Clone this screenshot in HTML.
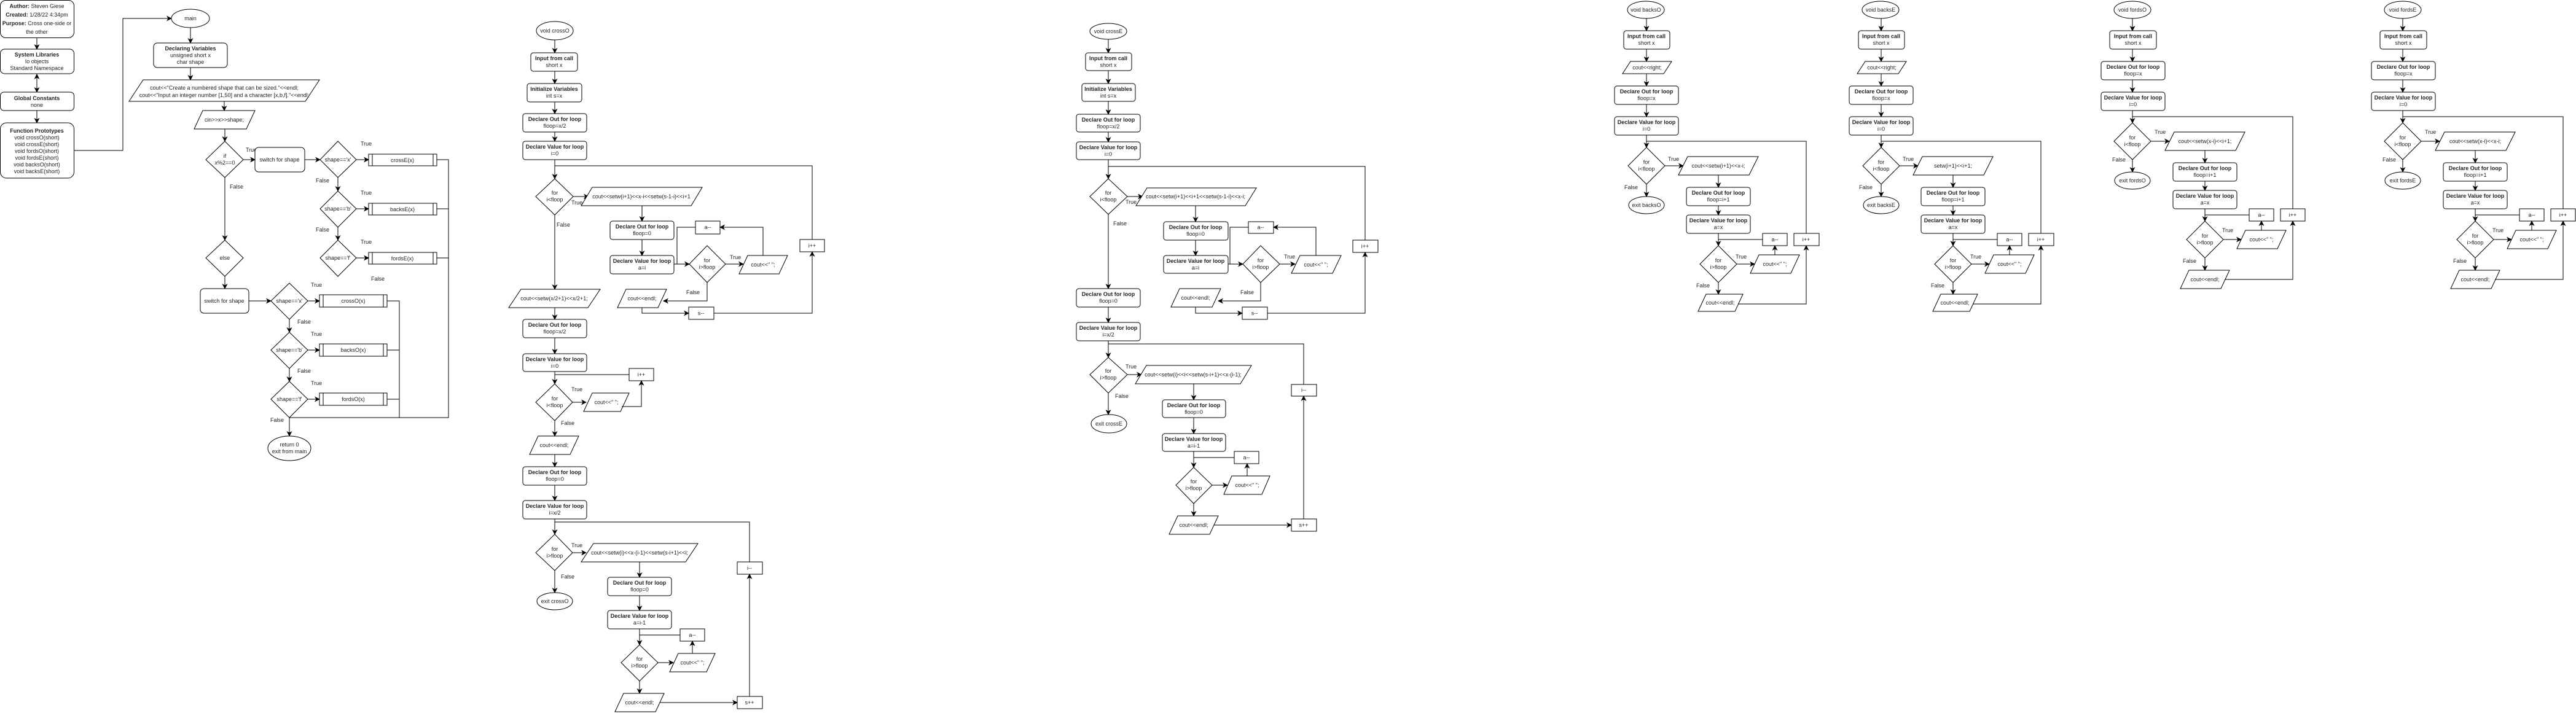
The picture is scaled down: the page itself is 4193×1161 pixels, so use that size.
<!DOCTYPE html>
<html><head><meta charset="utf-8">
<style>
html,body{margin:0;padding:0;background:#fff;}
svg{display:block;}
text{font-family:"Liberation Sans",sans-serif;font-size:9px;fill:#222;text-anchor:middle;}
.l{text-anchor:start;}
.bd{font-weight:bold;}
.s{fill:#fff;stroke:#000;stroke-width:1;}
.c{fill:none;stroke:#000;stroke-width:1;}
</style></head><body>
<svg width="4193" height="1161" viewBox="0 0 4193 1161" xmlns="http://www.w3.org/2000/svg">
<defs>
<marker id="a" markerUnits="userSpaceOnUse" markerWidth="9" markerHeight="9" refX="8" refY="4.5" orient="auto">
<path d="M0,0 L9,4.5 L0,9 L2.5,4.5 z" fill="#000"/></marker>
<marker id="as" markerUnits="userSpaceOnUse" markerWidth="9" markerHeight="9" refX="1" refY="4.5" orient="auto">
<path d="M9,0 L0,4.5 L9,9 L6.5,4.5 z" fill="#000"/></marker>
</defs>

<!-- ============ MAIN ============ -->
<rect class="s" x="0.5" y="0.5" width="120" height="61" rx="9"/>
<text x="60" y="13"><tspan class="bd">Author:</tspan> Steven Giese</text>
<text x="60" y="27"><tspan class="bd">Created:</tspan> 1/28/22 4:34pm</text>
<text x="60" y="41"><tspan class="bd">Purpose:</tspan> Cross one-side or</text>
<text x="60" y="55">the other</text>
<line class="c" x1="60" y1="61" x2="60" y2="80" marker-end="url(#a)"/>
<rect class="s" x="0.5" y="80" width="120" height="40" rx="7"/>
<text x="60" y="92" class="bd">System Libraries</text>
<text x="60" y="103">Io objects</text>
<text x="60" y="114">Standard Namespace</text>
<line class="c" x1="60" y1="121" x2="60" y2="150" marker-start="url(#as)" marker-end="url(#a)"/>
<rect class="s" x="0.5" y="150" width="120" height="30" rx="6"/>
<text x="60" y="163" class="bd">Global Constants</text>
<text x="60" y="174">none</text>
<line class="c" x1="60" y1="180" x2="60" y2="200" marker-end="url(#a)"/>
<rect class="s" x="0.5" y="200" width="120" height="90" rx="10"/>
<text x="60" y="216" class="bd">Function Prototypes</text>
<text x="60" y="227">void crossO(short)</text>
<text x="60" y="238">void crossE(short)</text>
<text x="60" y="249">void fordsO(short)</text>
<text x="60" y="260">void fordsE(short)</text>
<text x="60" y="271">void backsO(short)</text>
<text x="60" y="282">void backsE(short)</text>
<polyline class="c" points="120,245 200,245 200,30 279,30" marker-end="url(#a)"/>
<ellipse class="s" cx="310" cy="30" rx="31" ry="15"/>
<text x="310" y="33">main</text>
<line class="c" x1="310" y1="45" x2="310" y2="70" marker-end="url(#a)"/>
<rect class="s" x="250" y="70" width="120" height="40" rx="6"/>
<text x="310" y="82" class="bd">Declaring Variables</text>
<text x="310" y="93">unsigned short x</text>
<text x="310" y="104">char shape</text>
<line class="c" x1="310" y1="110" x2="310" y2="130" marker-end="url(#a)"/>
<polygon class="s" points="233,130 520,130 497,165 210,165"/>
<text x="365" y="146">cout&lt;&lt;"Create a numbered  shape that can be sized."&lt;&lt;endl;</text>
<text x="365" y="158">cout&lt;&lt;"Input an integer number [1,50] and a character [x,b,f]."&lt;&lt;endl;</text>
<line class="c" x1="365" y1="165" x2="365" y2="180" marker-end="url(#a)"/>
<polygon class="s" points="330,180 415,180 401,210 316,210"/>
<text x="365" y="198">cin&gt;&gt;x&gt;&gt;shape;</text>
<line class="c" x1="366" y1="210" x2="366" y2="230" marker-end="url(#a)"/>
<polygon class="s" points="366,230 396,260 366,289 335,260"/>
<text x="366" y="257">if</text><text x="366" y="268">x%2==0</text>
<line class="c" x1="396" y1="260" x2="415" y2="260" marker-end="url(#a)"/>
<text x="400" y="247" class="l">True</text>
<rect class="s" x="415" y="240" width="81" height="40" rx="6"/>
<text x="455" y="263">switch for shape</text>
<line class="c" x1="496" y1="260" x2="521" y2="260" marker-end="url(#a)"/>
<polygon class="s" points="550,230 580,260 550,289 521,260"/>
<text x="550" y="263">shape=='x'</text>
<line class="c" x1="580" y1="260" x2="600" y2="260" marker-end="url(#a)"/>
<rect class="s" x="600" y="251" width="111" height="19"/><line class="c" x1="606" y1="251" x2="606" y2="270"/><line class="c" x1="705" y1="251" x2="705" y2="270"/>
<text x="655" y="264">crossE(x)</text>
<text x="587" y="237" class="l">True</text>
<text x="514" y="297" class="l">False</text>
<line class="c" x1="550" y1="289" x2="550" y2="311" marker-end="url(#a)"/>
<polygon class="s" points="550,311 580,340 550,370 521,340"/>
<text x="550" y="343">shape=='b'</text>
<line class="c" x1="580" y1="340" x2="600" y2="340" marker-end="url(#a)"/>
<rect class="s" x="600" y="331" width="111" height="19"/><line class="c" x1="606" y1="331" x2="606" y2="350"/><line class="c" x1="705" y1="331" x2="705" y2="350"/>
<text x="655" y="344">backsE(x)</text>
<text x="587" y="317" class="l">True</text>
<text x="514" y="377" class="l">False</text>
<line class="c" x1="550" y1="370" x2="550" y2="391" marker-end="url(#a)"/>
<polygon class="s" points="550,391 580,420 550,450 521,420"/>
<text x="550" y="423">shape=='f'</text>
<line class="c" x1="580" y1="420" x2="600" y2="420" marker-end="url(#a)"/>
<rect class="s" x="600" y="411" width="111" height="19"/><line class="c" x1="606" y1="411" x2="606" y2="430"/><line class="c" x1="705" y1="411" x2="705" y2="430"/>
<text x="655" y="424">fordsE(x)</text>
<text x="587" y="397" class="l">True</text>
<text x="604" y="457" class="l">False</text>
<polyline class="c" points="711,260 730,260 730,680 471,680"/>
<line class="c" x1="711" y1="340" x2="730" y2="340"/>
<line class="c" x1="711" y1="420" x2="730" y2="420"/>
<line class="c" x1="366" y1="289" x2="366" y2="391" marker-end="url(#a)"/>
<text x="374" y="307" class="l">False</text>
<polygon class="s" points="366,391 396,420 366,450 335,420"/>
<text x="366" y="423">else</text>
<line class="c" x1="366" y1="450" x2="366" y2="470" marker-end="url(#a)"/>
<rect class="s" x="326" y="470" width="79" height="40" rx="6"/>
<text x="365" y="493">switch for shape</text>
<line class="c" x1="405" y1="490" x2="441" y2="490" marker-end="url(#a)"/>
<polygon class="s" points="471,461 501,490 471,520 441,490"/>
<text x="471" y="493">shape=='x'</text>
<line class="c" x1="501" y1="490" x2="520" y2="490" marker-end="url(#a)"/>
<rect class="s" x="520" y="480" width="110" height="20"/><line class="c" x1="526" y1="480" x2="526" y2="500"/><line class="c" x1="624" y1="480" x2="624" y2="500"/>
<text x="575" y="493">crossO(x)</text>
<text x="506" y="467" class="l">True</text>
<text x="484" y="527" class="l">False</text>
<line class="c" x1="471" y1="520" x2="471" y2="541" marker-end="url(#a)"/>
<polygon class="s" points="471,541 501,570 471,600 441,570"/>
<text x="471" y="573">shape=='b'</text>
<line class="c" x1="501" y1="570" x2="520" y2="570" marker-end="url(#a)"/>
<rect class="s" x="520" y="560" width="110" height="20"/><line class="c" x1="526" y1="560" x2="526" y2="580"/><line class="c" x1="624" y1="560" x2="624" y2="580"/>
<text x="575" y="573">backsO(x)</text>
<text x="506" y="547" class="l">True</text>
<text x="484" y="607" class="l">False</text>
<line class="c" x1="471" y1="600" x2="471" y2="621" marker-end="url(#a)"/>
<polygon class="s" points="471,621 501,650 471,680 441,650"/>
<text x="471" y="653">shape=='f'</text>
<line class="c" x1="501" y1="650" x2="520" y2="650" marker-end="url(#a)"/>
<rect class="s" x="520" y="640" width="110" height="20"/><line class="c" x1="526" y1="640" x2="526" y2="660"/><line class="c" x1="624" y1="640" x2="624" y2="660"/>
<text x="575" y="653">fordsO(x)</text>
<text x="506" y="627" class="l">True</text>
<text x="440" y="687" class="l">False</text>
<polyline class="c" points="630,490 650,490 650,680"/>
<line class="c" x1="630" y1="570" x2="650" y2="570"/>
<line class="c" x1="630" y1="650" x2="650" y2="650"/>
<line class="c" x1="471" y1="680" x2="471" y2="710" marker-end="url(#a)"/>
<ellipse class="s" cx="471" cy="730" rx="35" ry="20"/>
<text x="471" y="727">return 0</text><text x="471" y="738">exit from main</text>

<!-- ============ crossO ============ -->
<ellipse class="s" cx="903" cy="50" rx="30" ry="15"/><text x="903" y="53">void crossO</text>
<line class="c" x1="903" y1="65" x2="903" y2="86" marker-end="url(#a)"/>
<rect class="s" x="864" y="86" width="76" height="30" rx="4"/><text x="902" y="98" class="bd">Input from call</text><text x="902" y="109">short x</text>
<line class="c" x1="903" y1="116" x2="903" y2="136" marker-end="url(#a)"/>
<rect class="s" x="858" y="136" width="89" height="30" rx="4"/><text x="902" y="148" class="bd">Initialize Variables</text><text x="902" y="159">int s=x</text>
<line class="c" x1="903" y1="166" x2="903" y2="185" marker-end="url(#a)"/>
<rect class="s" x="851" y="185" width="104" height="30" rx="4"/><text x="903" y="197" class="bd">Declare Out for loop</text><text x="903" y="208">floop=x/2</text>
<line class="c" x1="903" y1="215" x2="903" y2="230" marker-end="url(#a)"/>
<rect class="s" x="851" y="230" width="104" height="30" rx="4"/><text x="903" y="242" class="bd">Declare Value for loop</text><text x="903" y="253">i=0</text>
<line class="c" x1="903" y1="260" x2="903" y2="291" marker-end="url(#a)"/>
<polyline class="c" points="1322,390 1322,270 903,270"/>
<polygon class="s" points="903,291 933,320 903,350 872,320"/><text x="903" y="317">for</text><text x="903" y="328">i&lt;floop</text>
<line class="c" x1="933" y1="320" x2="958" y2="320" marker-end="url(#a)"/><text x="930" y="333" class="l">True</text>
<polygon class="s" points="964,305 1143,305 1125,335 946,335"/><text x="1044" y="323">cout&lt;&lt;setw(i+1)&lt;&lt;x-i&lt;&lt;setw(s-1-i)&lt;&lt;i+1</text>
<line class="c" x1="1045" y1="335" x2="1045" y2="360" marker-end="url(#a)"/>
<rect class="s" x="993" y="360" width="104" height="30" rx="4"/><text x="1045" y="372" class="bd">Declare Out for loop</text><text x="1045" y="383">floop=0</text>
<line class="c" x1="1045" y1="390" x2="1045" y2="416" marker-end="url(#a)"/>
<rect class="s" x="993" y="416" width="104" height="30" rx="4"/><text x="1045" y="428" class="bd">Declare Value for loop</text><text x="1045" y="439">a=i</text>
<rect class="s" x="1132" y="360" width="40" height="21"/><text x="1152" y="373">a--</text>
<line class="c" x1="1097" y1="430" x2="1122" y2="430" marker-end="url(#a)"/>
<polyline class="c" points="1132,370 1102,370 1102,430"/>
<polygon class="s" points="1151,400 1181,430 1151,460 1122,430"/><text x="1151" y="427">for</text><text x="1151" y="438">i&gt;floop</text>
<line class="c" x1="1181" y1="430" x2="1210" y2="430" marker-end="url(#a)"/><text x="1188" y="422" class="l">True</text>
<polygon class="s" points="1217,416 1282,416 1268,446 1203,446"/><text x="1242" y="434">cout&lt;&lt;" ";</text>
<polyline class="c" points="1242,416 1242,370 1172,370" marker-end="url(#a)"/>
<polyline class="c" points="1151,460 1151,490 1080,490" marker-end="url(#a)"/><text x="1117" y="479" class="l">False</text>
<polygon class="s" points="1019,471 1085,471 1071,501 1005,501"/><text x="1045" y="489">cout&lt;&lt;endl;</text>
<polyline class="c" points="1045,501 1045,510 1121,510" marker-end="url(#a)"/>
<rect class="s" x="1121" y="500" width="41" height="20"/><text x="1141" y="513">s--</text>
<polyline class="c" points="1162,510 1322,510 1322,410" marker-end="url(#a)"/>
<rect class="s" x="1302" y="390" width="40" height="20"/><text x="1322" y="403">i++</text>
<line class="c" x1="903" y1="350" x2="903" y2="471" marker-end="url(#a)"/><text x="906" y="369" class="l">False</text>
<polygon class="s" points="848,471 977,471 957,501 828,501"/><text x="902" y="489">cout&lt;&lt;setw(x/2+1)&lt;&lt;x/2+1;</text>
<line class="c" x1="903" y1="501" x2="903" y2="520" marker-end="url(#a)"/>
<rect class="s" x="851" y="520" width="104" height="30" rx="4"/><text x="903" y="532" class="bd">Declare Out for loop</text><text x="903" y="543">floop=x/2</text>
<line class="c" x1="903" y1="550" x2="903" y2="576" marker-end="url(#a)"/>
<rect class="s" x="851" y="576" width="104" height="29" rx="4"/><text x="903" y="588" class="bd">Declare Value for loop</text><text x="903" y="599">i=0</text>
<line class="c" x1="903" y1="605" x2="903" y2="625" marker-end="url(#a)"/>
<polyline class="c" points="1024,610 903,610"/>
<rect class="s" x="1024" y="600" width="40" height="20"/><text x="1044" y="613">i++</text>
<polygon class="s" points="903,625 932,655 903,685 872,655"/><text x="903" y="652">for</text><text x="903" y="663">i&lt;floop</text>
<line class="c" x1="932" y1="655" x2="954" y2="655" marker-end="url(#a)"/><text x="930" y="637" class="l">True</text>
<polygon class="s" points="964,640 1024,640 1010,670 950,670"/><text x="987" y="658">cout&lt;&lt;" ";</text>
<polyline class="c" points="1012,662 1044,662 1044,620" marker-end="url(#a)"/>
<line class="c" x1="903" y1="685" x2="903" y2="710" marker-end="url(#a)"/><text x="913" y="692" class="l">False</text>
<polygon class="s" points="876,710 942,710 928,740 862,740"/><text x="902" y="728">cout&lt;&lt;endl;</text>
<line class="c" x1="903" y1="740" x2="903" y2="760" marker-end="url(#a)"/>
<rect class="s" x="851" y="760" width="104" height="30" rx="4"/><text x="903" y="772" class="bd">Declare Out for loop</text><text x="903" y="783">floop=0</text>
<line class="c" x1="903" y1="790" x2="903" y2="815" marker-end="url(#a)"/>
<rect class="s" x="851" y="815" width="104" height="30" rx="4"/><text x="903" y="827" class="bd">Declare Value for loop</text><text x="903" y="838">i=x/2</text>
<line class="c" x1="903" y1="845" x2="903" y2="870" marker-end="url(#a)"/>
<polyline class="c" points="1220,915 1220,850 903,850"/>
<polygon class="s" points="903,870 932,900 903,929 872,900"/><text x="903" y="897">for</text><text x="903" y="908">i&gt;floop</text>
<line class="c" x1="932" y1="900" x2="954" y2="900" marker-end="url(#a)"/><text x="930" y="891" class="l">True</text>
<polygon class="s" points="966,885 1136,885 1116,915 946,915"/><text x="1041" y="903">cout&lt;&lt;setw(i)&lt;&lt;x-(i-1)&lt;&lt;setw(s-i+1)&lt;&lt;i;</text>
<line class="c" x1="903" y1="929" x2="903" y2="965" marker-end="url(#a)"/><text x="913" y="942" class="l">False</text>
<ellipse class="s" cx="903" cy="979" rx="29" ry="14"/><text x="903" y="982">exit crossO</text>
<line class="c" x1="1041" y1="915" x2="1041" y2="940" marker-end="url(#a)"/>
<rect class="s" x="989" y="940" width="104" height="30" rx="4"/><text x="1041" y="952" class="bd">Declare Out for loop</text><text x="1041" y="963">floop=0</text>
<line class="c" x1="1041" y1="970" x2="1041" y2="994" marker-end="url(#a)"/>
<rect class="s" x="989" y="994" width="104" height="30" rx="4"/><text x="1041" y="1006" class="bd">Declare Value for loop</text><text x="1041" y="1017">a=i-1</text>
<line class="c" x1="1041" y1="1024" x2="1041" y2="1050" marker-end="url(#a)"/>
<polyline class="c" points="1107,1034 1041,1034"/>
<rect class="s" x="1107" y="1024" width="40" height="20"/><text x="1127" y="1037">a--</text>
<polygon class="s" points="1041,1050 1071,1079 1041,1109 1011,1079"/><text x="1041" y="1076">for</text><text x="1041" y="1087">i&gt;floop</text>
<line class="c" x1="1071" y1="1079" x2="1096" y2="1079" marker-end="url(#a)"/>
<polygon class="s" points="1104,1064 1164,1064 1150,1094 1090,1094"/><text x="1127" y="1082">cout&lt;&lt;" ";</text>
<line class="c" x1="1127" y1="1064" x2="1127" y2="1044" marker-end="url(#a)"/>
<line class="c" x1="1041" y1="1109" x2="1041" y2="1129" marker-end="url(#a)"/>
<polygon class="s" points="1015,1129 1081,1129 1067,1159 1001,1159"/><text x="1041" y="1147">cout&lt;&lt;endl;</text>
<line class="c" x1="1074" y1="1144" x2="1200" y2="1144" marker-end="url(#a)"/>
<rect class="s" x="1200" y="1134" width="41" height="20"/><text x="1220" y="1147">s++</text>
<line class="c" x1="1220" y1="1134" x2="1220" y2="935" marker-end="url(#a)"/>
<rect class="s" x="1200" y="915" width="41" height="20"/><text x="1220" y="928">i--</text>

<!-- ============ crossE ============ -->
<ellipse class="s" cx="1804" cy="51" rx="30" ry="13"/><text x="1804" y="54">void crossE</text>
<line class="c" x1="1804" y1="64" x2="1804" y2="86" marker-end="url(#a)"/>
<rect class="s" x="1767" y="86" width="75" height="29" rx="4"/><text x="1804" y="98" class="bd">Input from call</text><text x="1804" y="109">short x</text>
<line class="c" x1="1804" y1="115" x2="1804" y2="136" marker-end="url(#a)"/>
<rect class="s" x="1761" y="136" width="87" height="29" rx="4"/><text x="1804" y="148" class="bd">Initialize Variables</text><text x="1804" y="159">int s=x</text>
<line class="c" x1="1804" y1="165" x2="1804" y2="186" marker-end="url(#a)"/>
<rect class="s" x="1752" y="186" width="104" height="29" rx="4"/><text x="1804" y="198" class="bd">Declare Out for loop</text><text x="1804" y="209">floop=x/2</text>
<line class="c" x1="1804" y1="215" x2="1804" y2="231" marker-end="url(#a)"/>
<rect class="s" x="1752" y="231" width="104" height="29" rx="4"/><text x="1804" y="243" class="bd">Declare Value for loop</text><text x="1804" y="254">i=0</text>
<line class="c" x1="1804" y1="260" x2="1804" y2="291" marker-end="url(#a)"/>
<polyline class="c" points="2222,391 2222,271 1804,271"/>
<polygon class="s" points="1804,291 1835,320 1804,349 1774,320"/><text x="1804" y="317">for</text><text x="1804" y="328">i&lt;floop</text>
<line class="c" x1="1835" y1="320" x2="1860" y2="320" marker-end="url(#a)"/><text x="1832" y="332" class="l">True</text>
<polygon class="s" points="1867,306 2045,306 2027,335 1849,335"/><text x="1946" y="323">cout&lt;&lt;setw(i+1)&lt;&lt;i+1&lt;&lt;setw(s-1-i)&lt;&lt;x-i;</text>
<line class="c" x1="1946" y1="335" x2="1946" y2="361" marker-end="url(#a)"/>
<rect class="s" x="1894" y="361" width="105" height="30" rx="4"/><text x="1946" y="373" class="bd">Declare Out for loop</text><text x="1946" y="384">floop=0</text>
<line class="c" x1="1946" y1="391" x2="1946" y2="416" marker-end="url(#a)"/>
<rect class="s" x="1894" y="416" width="105" height="29" rx="4"/><text x="1946" y="428" class="bd">Declare Value for loop</text><text x="1946" y="439">a=i</text>
<rect class="s" x="2032" y="361" width="41" height="19"/><text x="2052" y="373">a--</text>
<line class="c" x1="1999" y1="430" x2="2023" y2="430" marker-end="url(#a)"/>
<polyline class="c" points="2032,370 2002,370 2002,430"/>
<polygon class="s" points="2052,400 2083,430 2052,460 2023,430"/><text x="2052" y="427">for</text><text x="2052" y="438">i&gt;floop</text>
<line class="c" x1="2083" y1="430" x2="2108" y2="430" marker-end="url(#a)"/><text x="2090" y="421" class="l">True</text>
<polygon class="s" points="2116,416 2183,416 2169,445 2102,445"/><text x="2142" y="434">cout&lt;&lt;" ";</text>
<polyline class="c" points="2142,416 2142,370 2073,370" marker-end="url(#a)"/>
<polyline class="c" points="2052,460 2052,490 1983,490" marker-end="url(#a)"/><text x="2019" y="479" class="l">False</text>
<polygon class="s" points="1920,470 1987,470 1973,500 1906,500"/><text x="1946" y="488">cout&lt;&lt;endl;</text>
<polyline class="c" points="1946,500 1946,510 2022,510" marker-end="url(#a)"/>
<rect class="s" x="2022" y="500" width="41" height="20"/><text x="2042" y="513">s--</text>
<polyline class="c" points="2063,510 2222,510 2222,411" marker-end="url(#a)"/>
<rect class="s" x="2202" y="391" width="41" height="20"/><text x="2222" y="404">i++</text>
<line class="c" x1="1804" y1="349" x2="1804" y2="470" marker-end="url(#a)"/><text x="1812" y="367" class="l">False</text>
<rect class="s" x="1752" y="470" width="104" height="30" rx="4"/><text x="1804" y="482" class="bd">Declare Out for loop</text><text x="1804" y="493">floop=0</text>
<line class="c" x1="1804" y1="500" x2="1804" y2="525" marker-end="url(#a)"/>
<rect class="s" x="1752" y="525" width="104" height="30" rx="4"/><text x="1804" y="537" class="bd">Declare Value for loop</text><text x="1804" y="548">i=x/2</text>
<line class="c" x1="1804" y1="555" x2="1804" y2="582" marker-end="url(#a)"/>
<polyline class="c" points="2122,626 2122,560 1804,560"/>
<polygon class="s" points="1804,582 1835,610 1804,640 1774,610"/><text x="1804" y="607">for</text><text x="1804" y="618">i&gt;floop</text>
<line class="c" x1="1835" y1="610" x2="1858" y2="610" marker-end="url(#a)"/><text x="1832" y="600" class="l">True</text>
<polygon class="s" points="1866,595 2037,595 2019,625 1848,625"/><text x="1942" y="613">cout&lt;&lt;setw(i)&lt;&lt;i&lt;&lt;setw(s-i+1)&lt;&lt;x-(i-1);</text>
<line class="c" x1="1804" y1="640" x2="1804" y2="675" marker-end="url(#a)"/><text x="1815" y="648" class="l">False</text>
<ellipse class="s" cx="1805" cy="690" rx="29" ry="15"/><text x="1805" y="693">exit crossE</text>
<line class="c" x1="1943" y1="625" x2="1943" y2="651" marker-end="url(#a)"/>
<rect class="s" x="1892" y="651" width="103" height="29" rx="4"/><text x="1943" y="663" class="bd">Declare Out for loop</text><text x="1943" y="674">floop=0</text>
<line class="c" x1="1943" y1="680" x2="1943" y2="706" marker-end="url(#a)"/>
<rect class="s" x="1892" y="706" width="103" height="29" rx="4"/><text x="1943" y="718" class="bd">Declare Value for loop</text><text x="1943" y="729">a=i-1</text>
<line class="c" x1="1943" y1="735" x2="1943" y2="761" marker-end="url(#a)"/>
<polyline class="c" points="2009,745 1943,745"/>
<rect class="s" x="2009" y="735" width="40" height="20"/><text x="2029" y="748">a--</text>
<polygon class="s" points="1943,761 1973,790 1943,820 1914,790"/><text x="1943" y="787">for</text><text x="1943" y="798">i&gt;floop</text>
<line class="c" x1="1973" y1="790" x2="1998" y2="790" marker-end="url(#a)"/>
<polygon class="s" points="2005,775 2067,775 2054,805 1992,805"/><text x="2030" y="793">cout&lt;&lt;" ";</text>
<line class="c" x1="2030" y1="775" x2="2030" y2="755" marker-end="url(#a)"/>
<line class="c" x1="1943" y1="820" x2="1943" y2="840" marker-end="url(#a)"/>
<polygon class="s" points="1917,840 1983,840 1969,870 1903,870"/><text x="1943" y="858">cout&lt;&lt;endl;</text>
<line class="c" x1="1976" y1="855" x2="2102" y2="855" marker-end="url(#a)"/>
<rect class="s" x="2102" y="845" width="41" height="20"/><text x="2122" y="858">s++</text>
<line class="c" x1="2122" y1="845" x2="2122" y2="645" marker-end="url(#a)"/>
<rect class="s" x="2102" y="626" width="41" height="19"/><text x="2122" y="638">i--</text>

<!-- ============ backsO / backsE ============ -->
<g id="bO">
<ellipse class="s" cx="2679" cy="16" rx="30" ry="14"/><text x="2679" y="19">void backsO</text>
<line class="c" x1="2680" y1="30" x2="2680" y2="50" marker-end="url(#a)"/>
<rect class="s" x="2643" y="50" width="75" height="30" rx="4"/><text x="2680" y="62" class="bd">Input from call</text><text x="2680" y="73">short x</text>
<line class="c" x1="2680" y1="80" x2="2680" y2="100" marker-end="url(#a)"/>
<polygon class="s" points="2654,100 2721,100 2708,120 2641,120"/><text x="2681" y="113">cout&lt;&lt;right;</text>
<line class="c" x1="2680" y1="120" x2="2680" y2="140" marker-end="url(#a)"/>
<rect class="s" x="2628" y="140" width="104" height="30" rx="4"/><text x="2680" y="152" class="bd">Declare Out for loop</text><text x="2680" y="163">floop=x</text>
<line class="c" x1="2680" y1="170" x2="2680" y2="190" marker-end="url(#a)"/>
<rect class="s" x="2628" y="190" width="104" height="30" rx="4"/><text x="2680" y="202" class="bd">Declare Value for loop</text><text x="2680" y="213">i=0</text>
<line class="c" x1="2680" y1="220" x2="2680" y2="240" marker-end="url(#a)"/>
<polyline class="c" points="2940,380 2940,230 2680,230"/>
<polygon class="s" points="2680,240 2710,270 2680,300 2650,270"/><text x="2680" y="267">for</text><text x="2680" y="278">i&lt;floop</text>
<line class="c" x1="2710" y1="270" x2="2740" y2="270" marker-end="url(#a)"/><text x="2715" y="262" class="l">True</text>
<text x="2644" y="308" class="l">False</text>
<line class="c" x1="2680" y1="300" x2="2680" y2="320" marker-end="url(#a)"/>
<line class="c" x1="2797" y1="285" x2="2797" y2="305" marker-end="url(#a)"/>
<rect class="s" x="2745" y="305" width="104" height="30" rx="4"/><text x="2797" y="317" class="bd">Declare Out for loop</text><text x="2797" y="328">floop=i+1</text>
<line class="c" x1="2797" y1="335" x2="2797" y2="350" marker-end="url(#a)"/>
<rect class="s" x="2745" y="350" width="104" height="30" rx="4"/><text x="2797" y="362" class="bd">Declare Value for loop</text><text x="2797" y="373">a=x</text>
<line class="c" x1="2797" y1="380" x2="2797" y2="400" marker-end="url(#a)"/>
<polyline class="c" points="2869,390 2797,390"/>
<rect class="s" x="2869" y="380" width="40" height="20"/><text x="2889" y="393">a--</text>
<polygon class="s" points="2797,400 2827,430 2797,460 2767,430"/><text x="2797" y="427">for</text><text x="2797" y="438">i&gt;floop</text>
<line class="c" x1="2827" y1="430" x2="2856" y2="430" marker-end="url(#a)"/><text x="2825" y="421" class="l">True</text>
<polygon class="s" points="2863,415 2929,415 2915,445 2849,445"/><text x="2889" y="433">cout&lt;&lt;" ";</text>
<line class="c" x1="2889" y1="415" x2="2889" y2="400" marker-end="url(#a)"/>
<text x="2761" y="468" class="l">False</text>
<line class="c" x1="2797" y1="460" x2="2797" y2="479" marker-end="url(#a)"/>
<polygon class="s" points="2777,479 2837,479 2824,507 2764,507"/><text x="2800" y="496">cout&lt;&lt;endl;</text>
<polyline class="c" points="2830,495 2940,495 2940,400" marker-end="url(#a)"/>
<rect class="s" x="2920" y="380" width="41" height="20"/><text x="2940" y="393">i++</text>
</g>
<polygon class="s" points="2747,255 2862,255 2847,285 2732,285"/><text x="2797" y="273">cout&lt;&lt;setw(i+1)&lt;&lt;x-i;</text>
<ellipse class="s" cx="2680" cy="334" rx="29" ry="14"/><text x="2680" y="337">exit backsO</text>

<g transform="translate(382,0)">
<ellipse class="s" cx="2679" cy="16" rx="30" ry="14"/><text x="2679" y="19">void backsE</text>
<line class="c" x1="2680" y1="30" x2="2680" y2="50" marker-end="url(#a)"/>
<rect class="s" x="2643" y="50" width="75" height="30" rx="4"/><text x="2680" y="62" class="bd">Input from call</text><text x="2680" y="73">short x</text>
<line class="c" x1="2680" y1="80" x2="2680" y2="100" marker-end="url(#a)"/>
<polygon class="s" points="2654,100 2721,100 2708,120 2641,120"/><text x="2681" y="113">cout&lt;&lt;right;</text>
<line class="c" x1="2680" y1="120" x2="2680" y2="140" marker-end="url(#a)"/>
<rect class="s" x="2628" y="140" width="104" height="30" rx="4"/><text x="2680" y="152" class="bd">Declare Out for loop</text><text x="2680" y="163">floop=x</text>
<line class="c" x1="2680" y1="170" x2="2680" y2="190" marker-end="url(#a)"/>
<rect class="s" x="2628" y="190" width="104" height="30" rx="4"/><text x="2680" y="202" class="bd">Declare Value for loop</text><text x="2680" y="213">i=0</text>
<line class="c" x1="2680" y1="220" x2="2680" y2="240" marker-end="url(#a)"/>
<polyline class="c" points="2940,380 2940,230 2680,230"/>
<polygon class="s" points="2680,240 2710,270 2680,300 2650,270"/><text x="2680" y="267">for</text><text x="2680" y="278">i&lt;floop</text>
<line class="c" x1="2710" y1="270" x2="2740" y2="270" marker-end="url(#a)"/><text x="2715" y="262" class="l">True</text>
<text x="2644" y="308" class="l">False</text>
<line class="c" x1="2680" y1="300" x2="2680" y2="320" marker-end="url(#a)"/>
<line class="c" x1="2797" y1="285" x2="2797" y2="305" marker-end="url(#a)"/>
<rect class="s" x="2745" y="305" width="104" height="30" rx="4"/><text x="2797" y="317" class="bd">Declare Out for loop</text><text x="2797" y="328">floop=i+1</text>
<line class="c" x1="2797" y1="335" x2="2797" y2="350" marker-end="url(#a)"/>
<rect class="s" x="2745" y="350" width="104" height="30" rx="4"/><text x="2797" y="362" class="bd">Declare Value for loop</text><text x="2797" y="373">a=x</text>
<line class="c" x1="2797" y1="380" x2="2797" y2="400" marker-end="url(#a)"/>
<polyline class="c" points="2869,390 2797,390"/>
<rect class="s" x="2869" y="380" width="40" height="20"/><text x="2889" y="393">a--</text>
<polygon class="s" points="2797,400 2827,430 2797,460 2767,430"/><text x="2797" y="427">for</text><text x="2797" y="438">i&gt;floop</text>
<line class="c" x1="2827" y1="430" x2="2856" y2="430" marker-end="url(#a)"/><text x="2825" y="421" class="l">True</text>
<polygon class="s" points="2863,415 2929,415 2915,445 2849,445"/><text x="2889" y="433">cout&lt;&lt;" ";</text>
<line class="c" x1="2889" y1="415" x2="2889" y2="400" marker-end="url(#a)"/>
<text x="2761" y="468" class="l">False</text>
<line class="c" x1="2797" y1="460" x2="2797" y2="479" marker-end="url(#a)"/>
<polygon class="s" points="2777,479 2837,479 2824,507 2764,507"/><text x="2800" y="496">cout&lt;&lt;endl;</text>
<polyline class="c" points="2830,495 2940,495 2940,400" marker-end="url(#a)"/>
<rect class="s" x="2920" y="380" width="41" height="20"/><text x="2940" y="393">i++</text>
<polygon class="s" points="2747,255 2862,255 2847,285 2732,285"/><text x="2797" y="273">setw(i+1)&lt;&lt;i+1;</text>
<ellipse class="s" cx="2680" cy="334" rx="29" ry="14"/><text x="2680" y="337">exit backsE</text>
</g>

<!-- ============ fordsO / fordsE ============ -->
<g>
<ellipse class="s" cx="3471" cy="16" rx="30" ry="14"/><text x="3471" y="19">void fordsO</text>
<line class="c" x1="3471" y1="30" x2="3471" y2="50" marker-end="url(#a)"/>
<rect class="s" x="3434" y="50" width="76" height="30" rx="4"/><text x="3472" y="62" class="bd">Input from call</text><text x="3472" y="73">short x</text>
<line class="c" x1="3471" y1="80" x2="3471" y2="100" marker-end="url(#a)"/>
<rect class="s" x="3420" y="100" width="104" height="30" rx="4"/><text x="3472" y="112" class="bd">Declare Out for loop</text><text x="3472" y="123">floop=x</text>
<line class="c" x1="3471" y1="130" x2="3471" y2="150" marker-end="url(#a)"/>
<rect class="s" x="3420" y="150" width="104" height="30" rx="4"/><text x="3472" y="162" class="bd">Declare Value for loop</text><text x="3472" y="173">i=0</text>
<line class="c" x1="3471" y1="180" x2="3471" y2="200" marker-end="url(#a)"/>
<polyline class="c" points="3732,340 3732,190 3471,190"/>
<polygon class="s" points="3471,200 3501,230 3471,260 3441,230"/><text x="3471" y="227">for</text><text x="3471" y="238">i&lt;floop</text>
<line class="c" x1="3501" y1="230" x2="3531" y2="230" marker-end="url(#a)"/><text x="3507" y="218" class="l">True</text>
<text x="3438" y="263" class="l">False</text>
<line class="c" x1="3471" y1="260" x2="3471" y2="280" marker-end="url(#a)"/>
<polygon class="s" points="3539,215 3654,215 3639,245 3524,245"/><text x="3589" y="233">cout&lt;&lt;setw(x-i)&lt;&lt;i+1;</text>
<ellipse class="s" cx="3471" cy="294" rx="29" ry="14"/><text x="3471" y="297">exit fordsO</text>
<line class="c" x1="3589" y1="245" x2="3589" y2="265" marker-end="url(#a)"/>
<rect class="s" x="3537" y="265" width="104" height="30" rx="4"/><text x="3589" y="277" class="bd">Declare Out for loop</text><text x="3589" y="288">floop=i+1</text>
<line class="c" x1="3589" y1="295" x2="3589" y2="310" marker-end="url(#a)"/>
<rect class="s" x="3537" y="310" width="104" height="30" rx="4"/><text x="3589" y="322" class="bd">Declare Value for loop</text><text x="3589" y="333">a=x</text>
<line class="c" x1="3589" y1="340" x2="3589" y2="360" marker-end="url(#a)"/>
<polyline class="c" points="3661,350 3589,350"/>
<rect class="s" x="3661" y="340" width="40" height="20"/><text x="3681" y="353">a--</text>
<polygon class="s" points="3589,360 3619,390 3589,420 3559,390"/><text x="3589" y="387">for</text><text x="3589" y="398">i&gt;floop</text>
<line class="c" x1="3619" y1="390" x2="3648" y2="390" marker-end="url(#a)"/><text x="3617" y="378" class="l">True</text>
<polygon class="s" points="3655,375 3721,375 3707,405 3641,405"/><text x="3681" y="393">cout&lt;&lt;" ";</text>
<line class="c" x1="3681" y1="375" x2="3681" y2="360" marker-end="url(#a)"/>
<text x="3553" y="428" class="l">False</text>
<line class="c" x1="3589" y1="420" x2="3589" y2="440" marker-end="url(#a)"/>
<polygon class="s" points="3563,440 3629,440 3615,470 3549,470"/><text x="3589" y="458">cout&lt;&lt;endl;</text>
<polyline class="c" points="3621,455 3732,455 3732,360" marker-end="url(#a)"/>
<rect class="s" x="3712" y="340" width="40" height="20"/><text x="3732" y="353">i++</text>
</g>

<g transform="translate(440,0)">
<ellipse class="s" cx="3471" cy="16" rx="30" ry="14"/><text x="3471" y="19">void fordsE</text>
<line class="c" x1="3471" y1="30" x2="3471" y2="50" marker-end="url(#a)"/>
<rect class="s" x="3434" y="50" width="76" height="30" rx="4"/><text x="3472" y="62" class="bd">Input from call</text><text x="3472" y="73">short x</text>
<line class="c" x1="3471" y1="80" x2="3471" y2="100" marker-end="url(#a)"/>
<rect class="s" x="3420" y="100" width="104" height="30" rx="4"/><text x="3472" y="112" class="bd">Declare Out for loop</text><text x="3472" y="123">floop=x</text>
<line class="c" x1="3471" y1="130" x2="3471" y2="150" marker-end="url(#a)"/>
<rect class="s" x="3420" y="150" width="104" height="30" rx="4"/><text x="3472" y="162" class="bd">Declare Value for loop</text><text x="3472" y="173">i=0</text>
<line class="c" x1="3471" y1="180" x2="3471" y2="200" marker-end="url(#a)"/>
<polyline class="c" points="3732,340 3732,190 3471,190"/>
<polygon class="s" points="3471,200 3501,230 3471,260 3441,230"/><text x="3471" y="227">for</text><text x="3471" y="238">i&lt;floop</text>
<line class="c" x1="3501" y1="230" x2="3531" y2="230" marker-end="url(#a)"/><text x="3507" y="218" class="l">True</text>
<text x="3438" y="263" class="l">False</text>
<line class="c" x1="3471" y1="260" x2="3471" y2="280" marker-end="url(#a)"/>
<polygon class="s" points="3539,215 3654,215 3639,245 3524,245"/><text x="3589" y="233">cout&lt;&lt;setw(x-i)&lt;&lt;x-i;</text>
<ellipse class="s" cx="3471" cy="294" rx="29" ry="14"/><text x="3471" y="297">exit fordsE</text>
<line class="c" x1="3589" y1="245" x2="3589" y2="265" marker-end="url(#a)"/>
<rect class="s" x="3537" y="265" width="104" height="30" rx="4"/><text x="3589" y="277" class="bd">Declare Out for loop</text><text x="3589" y="288">floop=i+1</text>
<line class="c" x1="3589" y1="295" x2="3589" y2="310" marker-end="url(#a)"/>
<rect class="s" x="3537" y="310" width="104" height="30" rx="4"/><text x="3589" y="322" class="bd">Declare Value for loop</text><text x="3589" y="333">a=x</text>
<line class="c" x1="3589" y1="340" x2="3589" y2="360" marker-end="url(#a)"/>
<polyline class="c" points="3661,350 3589,350"/>
<rect class="s" x="3661" y="340" width="40" height="20"/><text x="3681" y="353">a--</text>
<polygon class="s" points="3589,360 3619,390 3589,420 3559,390"/><text x="3589" y="387">for</text><text x="3589" y="398">i&gt;floop</text>
<line class="c" x1="3619" y1="390" x2="3648" y2="390" marker-end="url(#a)"/><text x="3617" y="378" class="l">True</text>
<polygon class="s" points="3655,375 3721,375 3707,405 3641,405"/><text x="3681" y="393">cout&lt;&lt;" ";</text>
<line class="c" x1="3681" y1="375" x2="3681" y2="360" marker-end="url(#a)"/>
<text x="3553" y="428" class="l">False</text>
<line class="c" x1="3589" y1="420" x2="3589" y2="440" marker-end="url(#a)"/>
<polygon class="s" points="3563,440 3629,440 3615,470 3549,470"/><text x="3589" y="458">cout&lt;&lt;endl;</text>
<polyline class="c" points="3621,455 3732,455 3732,360" marker-end="url(#a)"/>
<rect class="s" x="3712" y="340" width="40" height="20"/><text x="3732" y="353">i++</text>
</g>
</svg>
</body></html>
